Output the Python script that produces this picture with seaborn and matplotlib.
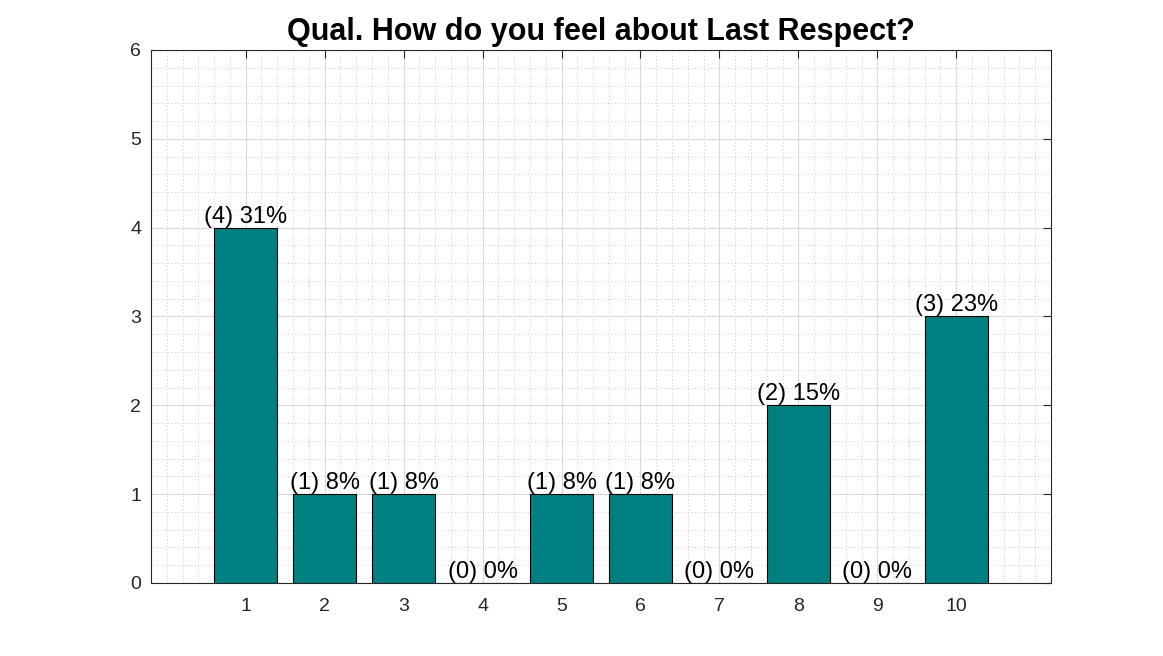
import numpy as np
import pandas as pd
import matplotlib
matplotlib.use("Agg")
import matplotlib.pyplot as plt
import seaborn as sns
from matplotlib.ticker import MultipleLocator

# data
ratings = [1, 2, 3, 4, 5, 6, 7, 8, 9, 10]
counts = [4, 1, 1, 0, 1, 1, 0, 2, 0, 3]
title = "Qual. How do you feel about Last Respect?"

sns.set_style("white")
plt.rcParams['font.family'] = ['Liberation Sans', 'DejaVu Sans']

df = pd.DataFrame({"rating": ratings, "count": counts})
total = sum(counts)

fig = plt.figure(figsize=(11.63, 6.56), dpi=100)
ax = fig.add_axes([0.1298, 0.1113, 0.7739, 0.8125])

# numeric x so bars sit at the real rating values
ax.bar(df["rating"], df["count"], width=0.8, color="#008080",
       edgecolor="black", linewidth=0.8, zorder=3)
sns.despine(ax=ax, top=False, right=False)

for r, c in zip(ratings, counts):
    pct = round(100 * c / total)
    ax.text(r, c, f"({c}) {pct}%", ha="center", va="bottom",
            fontsize=17, color="black", zorder=4)

ax.set_xlim(-0.2, 11.2)
ax.set_ylim(0, 6)
ax.set_xticks(ratings)
ax.set_yticks(range(7))
ax.xaxis.set_minor_locator(MultipleLocator(0.2))
ax.yaxis.set_minor_locator(MultipleLocator(0.2))
ax.grid(which="major", color="#d9d9d9", linewidth=0.8, zorder=0)
ax.grid(which="minor", color="#b8b8b8", linestyle=(0, (1, 3)), linewidth=0.6, zorder=0)
ax.set_axisbelow(True)

ax.tick_params(which="major", direction="in", length=6, width=0.8,
               top=True, right=True, labelsize=14, colors="#262626")
ax.tick_params(axis="x", which="major", pad=11)
ax.tick_params(axis="y", which="major", pad=7)
ax.tick_params(which="minor", length=0)
for s in ax.spines.values():
    s.set_color("#262626")
    s.set_linewidth(0.8)

ax.set_title(title, fontsize=22, fontweight="bold", color="black", pad=7)

fig.savefig("out.png", dpi=100)
